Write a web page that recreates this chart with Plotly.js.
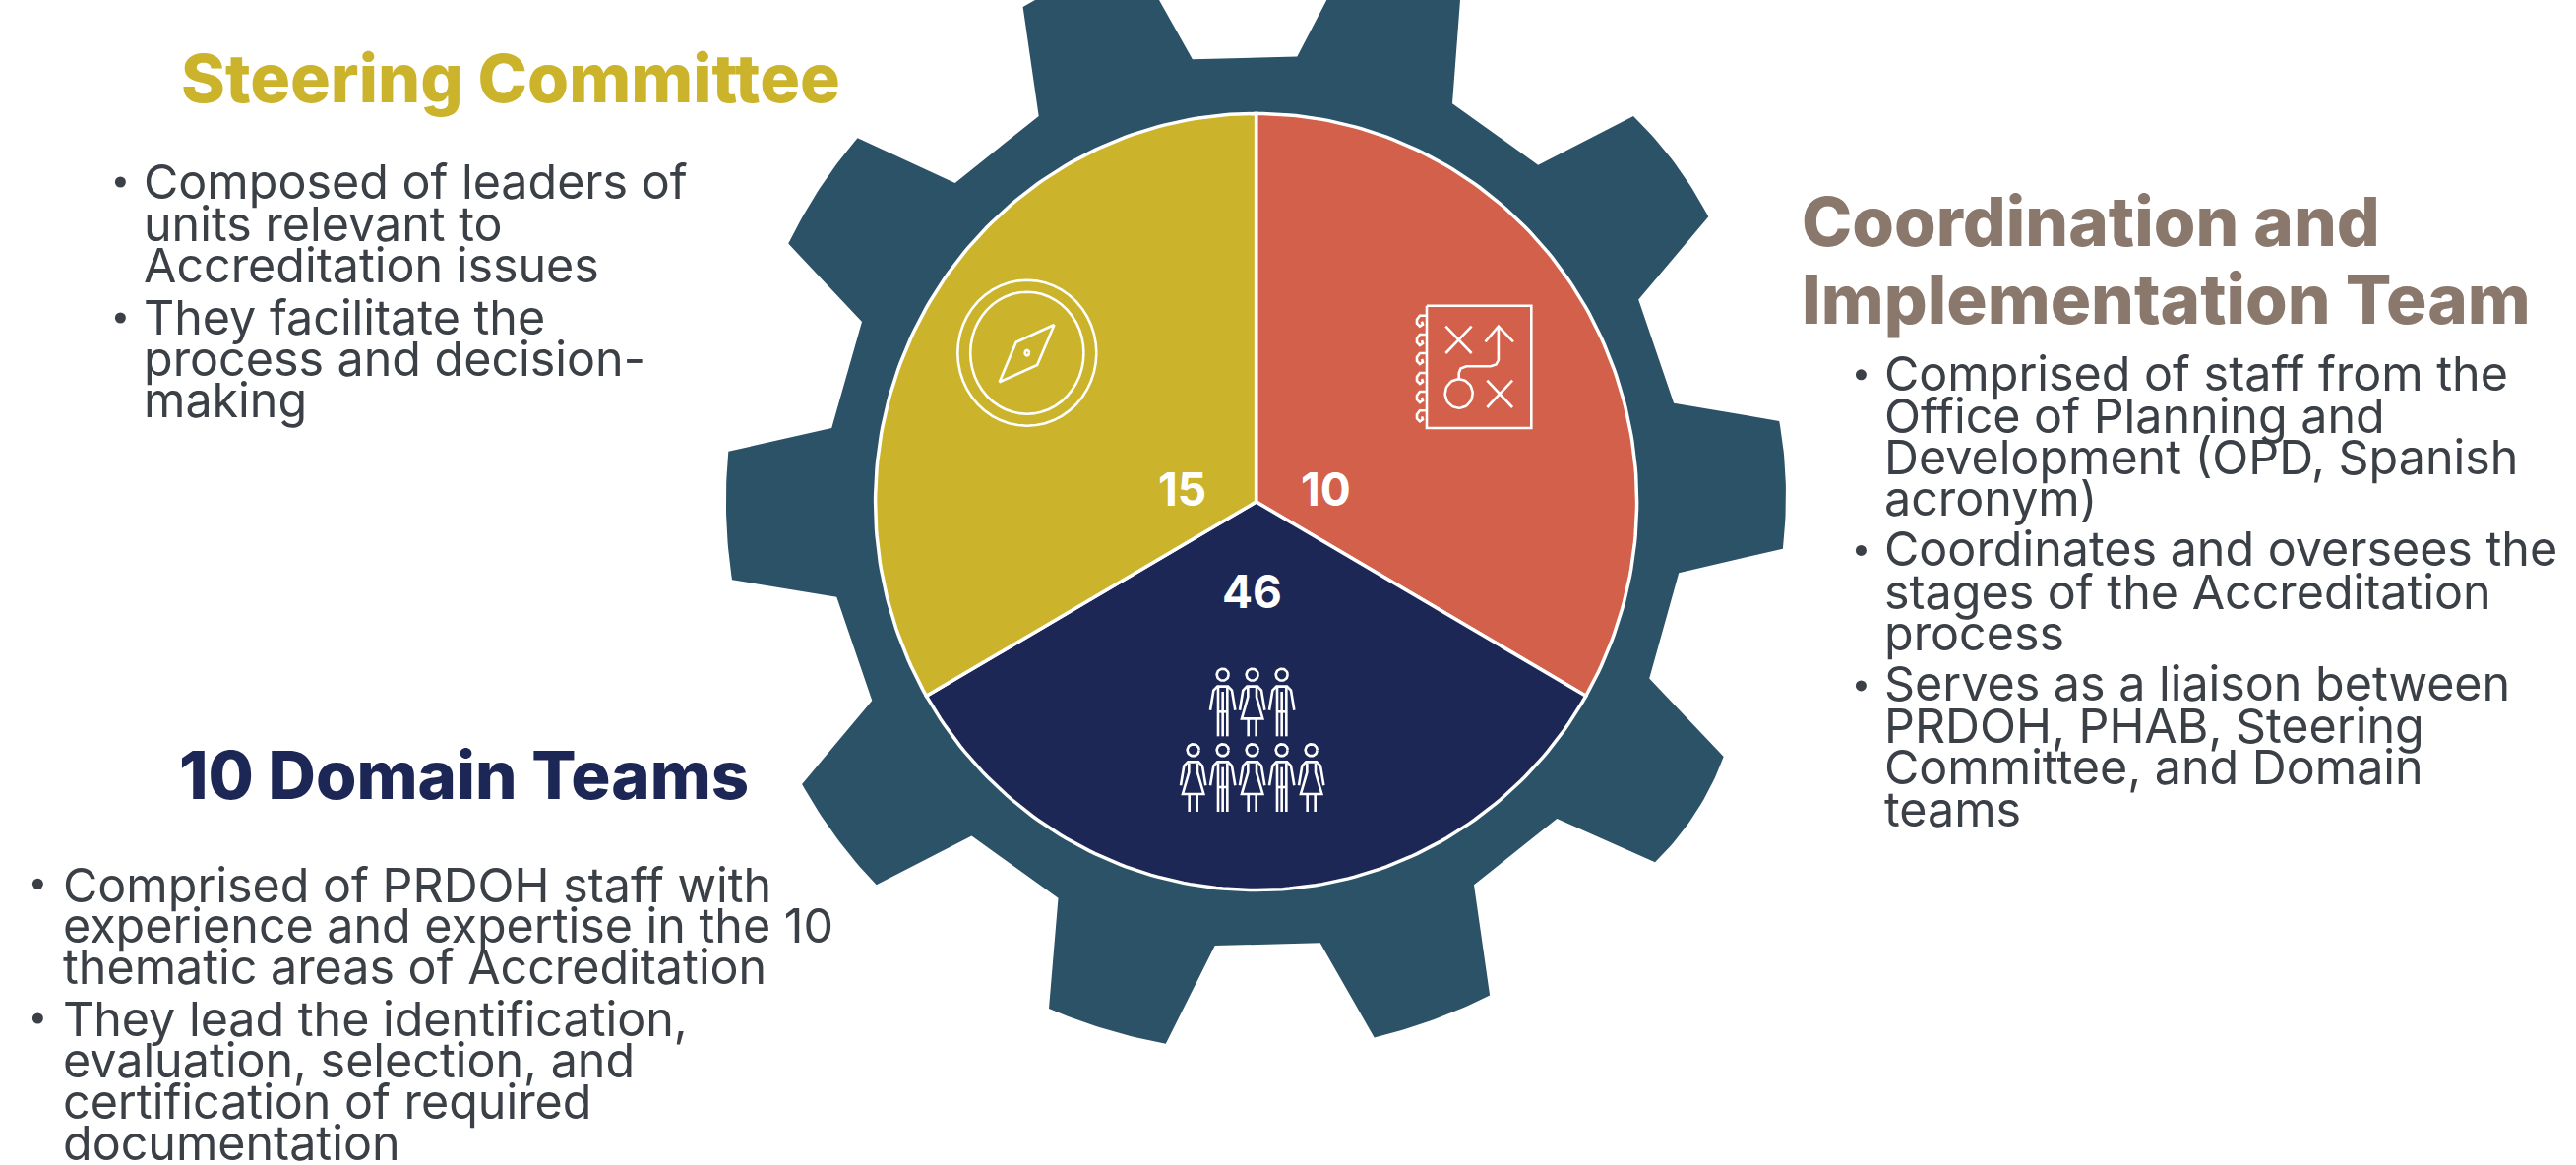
<!DOCTYPE html>
<html><head><meta charset="utf-8">
<script src="https://cdn.plot.ly/plotly-3.0.1.min.js"></script>
<style>html,body{margin:0;padding:0;background:#fff}#chart{width:2618px;height:1184px}</style>
</head><body><div id="chart"></div>
<script>
// ---- data ----
const sliceNames = ["Coordination and Implementation Team", "10 Domain Teams", "Steering Committee"];
const sliceShares = [1, 1, 1];
const sliceCounts = ["10", "46", "15"];

const gearX = [1055.7,1039.6,1052,1178,1211.9,1318.3,1348.3,1484,1476,1563.2,1660,1701.8,1736.3,1665.2,1701.1,1808.2,1814.8,1811.9,1706.2,1676.2,1751.7,1723,1682,1582.3,1498,1514.1,1457.6,1396.7,1341.7,1234.7,1184.8,1123.9,1066,1075.5,987.5,890.7,850.3,815.1,886.3,850.3,744,738.1,740.3,845.2,876,801.2,833.5,871.6,970.6];
const gearY = [117.9,7,0,0,60.3,57.5,0,0,105.2,167.7,117.9,165.6,220.3,304.5,409.7,427.9,491,557.7,582.3,689.6,768.9,826.4,876.2,832,899.3,1011.6,1036,1054.4,958.3,961.1,1060.7,1046,1024.9,912.7,849.5,899.3,851.6,796.9,712,606.8,589.3,524,458.8,434.9,326.9,247.6,190.8,140.3,185.9];
const gearTipMiddles = [11,16,21,26,31,36,41,46];

const headingSteering = ["Steering Committee"];
const headingDomain = ["10 Domain Teams"];
const headingCoord = ["Coordination and", "Implementation Team"];

const steeringLines = ["Composed of leaders of","units relevant to","Accreditation issues","They facilitate the","process and decision-","making"];
const domainLines = ["Comprised of PRDOH staff with","experience and expertise in the 10","thematic areas of Accreditation","They lead the identification,","evaluation, selection, and","certification of required","documentation"];
const coordLines = ["Comprised of staff from the","Office of Planning and","Development (OPD, Spanish","acronym)","Coordinates and oversees the","stages of the Accreditation","process","Serves as a liaison between","PRDOH, PHAB, Steering","Committee, and Domain","teams"];

// ---- layout constants ----
const C = {navy:"#1d2756", gold:"#cbb42b", orange:"#d2604a", gear:"#2c5268", brown:"#8b786c", body:"#3b4047"};
const sliceColors = [C.orange, C.navy, C.gold];
const cx = 1276.6, cy = 510, rx = 387, ry = 394.6;
const BODY = 48.4, FONT = "Inter, sans-serif";

// ---- gear outline: curved tooth tips ----
const gx=[], gy=[];
gearX.forEach((_,i)=>{
  if(gearTipMiddles.includes(i)){
    const a=[gearX[i-1],gearY[i-1]], m=[gearX[i],gearY[i]], b=[gearX[i+1],gearY[i+1]];
    const c=[2*m[0]-(a[0]+b[0])/2, 2*m[1]-(a[1]+b[1])/2];
    for(let k=1;k<24;k++){const t=k/24,u=1-t;
      gx.push(u*u*a[0]+2*u*t*c[0]+t*t*b[0]); gy.push(u*u*a[1]+2*u*t*c[1]+t*t*b[1]);}
  } else { gx.push(gearX[i]); gy.push(gearY[i]); }
});
gx.push(gearX[0]); gy.push(gearY[0]);

const traces = [];
traces.push({type:"scatter", mode:"lines", x:gx, y:gy, fill:"toself", fillcolor:C.gear, line:{color:C.gear,width:0}, hoverinfo:"skip", name:"gear"});
const total = sliceShares.reduce((a,b)=>a+b,0);
let acc = 0;
sliceShares.forEach((s,i)=>{
  const a0 = acc/total*2*Math.PI, a1 = (acc+s)/total*2*Math.PI; acc += s;
  const xs=[cx], ys=[cy];
  for(let k=0;k<=120;k++){const t=a0+(a1-a0)*k/120; xs.push(cx+rx*Math.sin(t)); ys.push(cy-ry*Math.cos(t));}
  xs.push(cx); ys.push(cy);
  traces.push({type:"scatter", mode:"lines", x:xs, y:ys, fill:"toself", fillcolor:sliceColors[i], line:{color:"#ffffff",width:3.5}, hoverinfo:"skip", name:sliceNames[i]});
});

// ---- icons (strokes, null-separated) ----
const ix=[], iy=[];
function stroke(pts){pts.forEach(p=>{ix.push(p[0]);iy.push(p[1]);}); ix.push(null); iy.push(null);}
function oval(x0,y0,a,b){const p=[];for(let k=0;k<=48;k++){const t=k/48*2*Math.PI;p.push([x0+a*Math.cos(t),y0+b*Math.sin(t)]);}stroke(p);}
// compass
oval(1043.8,358.7,70.5,74); oval(1043.8,358.7,57.6,62);
stroke([[1071.5,330],[1032.7,347.7],[1015.7,388.3],[1054.1,371],[1071.5,330]]);
oval(1043.8,358.7,2.2,2.8);
// playbook
stroke([[1450,310.7],[1556.3,310.7],[1556.3,435],[1450,435],[1450,310.7]]);
[326.7,346,365,385,404,423.3].forEach(y=>stroke([[1450,y-6],[1443,y-6],[1440,y-2],[1440,y+2],[1443,y+5],[1446,y+3],[1445,y]]));
stroke([[1469.3,331.7],[1495.6,359]]); stroke([[1495.6,331.7],[1469.3,359]]);
stroke([[1511.3,386.7],[1537.1,414]]); stroke([[1537.1,386.7],[1511.3,414]]);
stroke([[1522.9,331.7],[1522.9,366],[1520.5,370.5],[1515,372.3],[1490.3,372.3],[1484.5,374.5],[1482.7,379],[1482.7,385.5]]);
stroke([[1509.5,347.3],[1522.9,331.7],[1538,347.3]]);
oval(1482.7,400,14,14.7);
// people
function person(zx,zy,woman){
  const X=d=>1150+(zx+d)/3, Y=d=>640+(zy+d)/3;
  oval(X(0),Y(0),6,6);
  stroke([[X(-38),Y(108)],[X(-28),Y(48)],[X(-16),Y(36)],[X(16),Y(36)],[X(28),Y(48)],[X(38),Y(108)]]);
  if(woman){
    stroke([[X(-13),Y(40)],[X(-13),Y(68)],[X(-32),Y(134)],[X(32),Y(134)],[X(13),Y(68)],[X(13),Y(40)]]);
    stroke([[X(-12),Y(134)],[X(-12),Y(188)]]); stroke([[X(12),Y(134)],[X(12),Y(188)]]);
  } else {
    stroke([[X(-14),Y(40)],[X(-14),Y(188)]]); stroke([[X(14),Y(40)],[X(14),Y(188)]]);
    stroke([[X(0),Y(52)],[X(0),Y(188)]]); stroke([[X(-14),Y(113)],[X(14),Y(113)]]);
  }
}
person(278,137,false);person(368,137,true);person(458,137,false);
person(188,367,true);person(278,367,false);person(368,367,true);person(458,367,false);person(548,367,true);
traces.push({type:"scatter",mode:"lines",x:ix,y:iy,line:{color:"#ffffff",width:2.6},connectgaps:false,hoverinfo:"skip",name:"icons"});

// ---- text ----
const anns=[];
function put(t,x,base,size,color,weight,anchor){
  anns.push({text:t,x:x,y:base-0.36*size,xref:"x",yref:"y",xanchor:anchor||"left",yanchor:"middle",showarrow:false,borderpad:0,
    font:{family:FONT,size:size,color:color,weight:weight}});
}
put(headingSteering[0],183,103.5,68,C.gold,800);
put(headingDomain[0],181,812,67,C.navy,800);
put(headingCoord[0],1830,250,69,C.brown,800);
put(headingCoord[1],1830,329,69,C.brown,800);
function block(lines,x,bases){
  lines.forEach((l,i)=>put(l,x,bases[i]+1.5,BODY,C.body,400));
}
block(steeringLines,144.5,[200.7,243.3,285,338.3,380,422.7]);
block(domainLines,62.5,[915,956.7,998.3,1051.7,1093.3,1135,1177.3]);
block(coordLines,1913.5,[395.5,438,480,522.6,573.8,617,659,710.8,753.3,795.8,838.3]);
put(sliceCounts[0],1347,514,46,"#ffffff",700,"center");
put(sliceCounts[1],1272,618,46,"#ffffff",700,"center");
put(sliceCounts[2],1201,514,46,"#ffffff",700,"center");

traces.push({type:"scatter",mode:"markers",
  x:[122.4,122.4,38.4,38.4,1891.4,1891.4,1891.4],
  y:[185,323,898.3,1035,380.8,559.4,696.9],
  marker:{color:C.body,size:11,line:{width:0}},hoverinfo:"skip",name:"bullets"});

Plotly.newPlot("chart",traces,{
  width:2618,height:1184,margin:{l:0,r:0,t:0,b:0,pad:0},showlegend:false,
  paper_bgcolor:"#ffffff",plot_bgcolor:"#ffffff",
  xaxis:{range:[0,2618],visible:false,fixedrange:true},
  yaxis:{range:[1184,0],visible:false,fixedrange:true},
  annotations:anns
},{staticPlot:true,displayModeBar:false});
</script></body></html>
